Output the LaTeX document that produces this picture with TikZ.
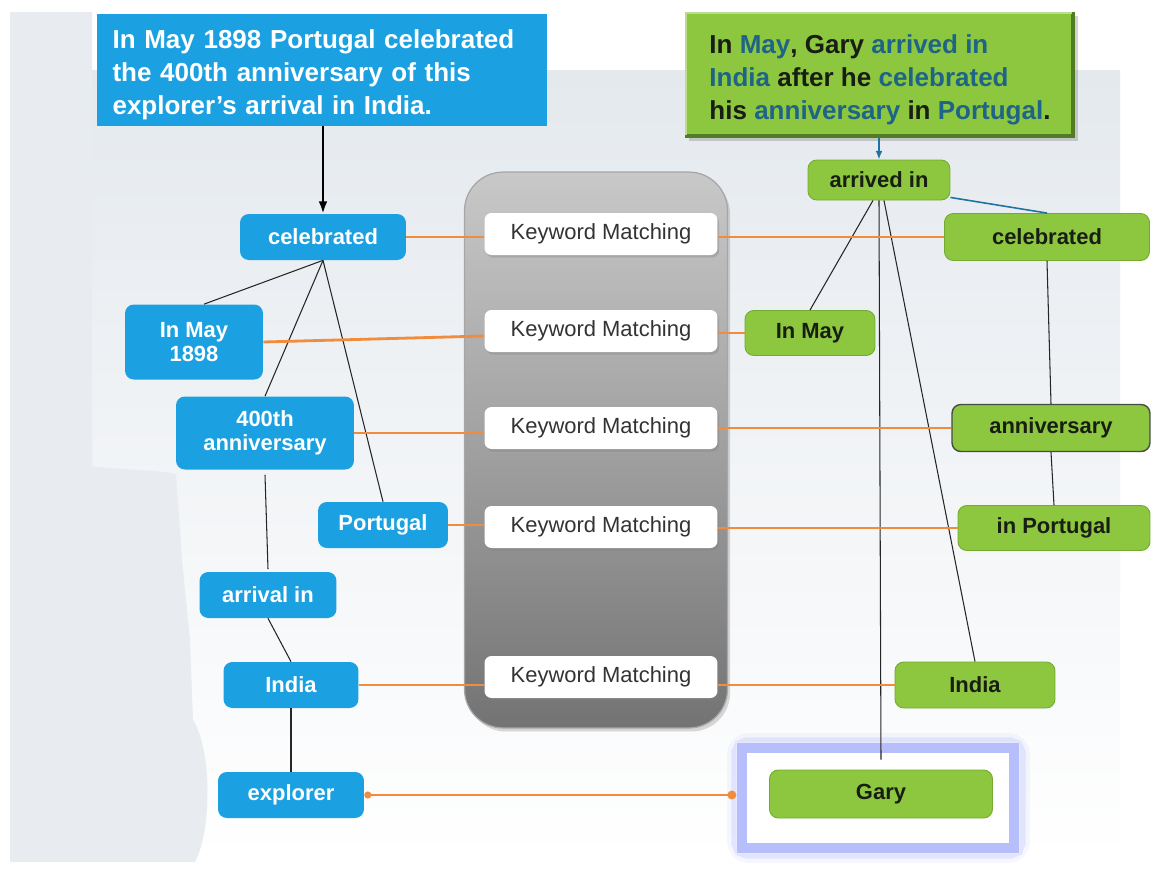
\documentclass[tikz,border=0pt]{standalone}
\usepackage{fontspec}
\setmainfont{Liberation Sans}
\usetikzlibrary{shadows,arrows.meta}

\definecolor{bgpale}{RGB}{232,236,240}
\definecolor{bgmain}{RGB}{228,233,238}
\definecolor{cyanbox}{RGB}{27,161,226}
\definecolor{leaf}{RGB}{141,198,63}
\definecolor{leafedge}{RGB}{104,158,40}
\definecolor{leafdark}{RGB}{80,125,35}
\definecolor{ink}{RGB}{25,30,20}
\definecolor{wordteal}{RGB}{30,100,135}
\definecolor{linkorange}{RGB}{240,140,60}
\definecolor{halocol}{RGB}{182,190,252}
\definecolor{panelhi}{RGB}{200,200,200}
\definecolor{panelmid}{RGB}{160,160,160}
\definecolor{panello}{RGB}{115,115,115}
\definecolor{arrowteal}{RGB}{30,115,160}

\newcommand{\labelfont}{\bfseries\fontsize{12.5}{13.8}\selectfont}

\begin{document}
\begin{tikzpicture}[x=0.02cm,y=-0.02cm,
  lbox/.style={fill=cyanbox, rounded corners=5pt, text=white, font=\labelfont,
    align=center, inner sep=0pt},
  gbox/.style={fill=leaf, draw=leafedge!70!leaf, line width=0.5pt, rounded corners=5pt,
    text=ink, font=\labelfont, align=center, inner sep=0pt},
  kmbox/.style={fill=white, rounded corners=4pt,
    drop shadow={opacity=0.35, shadow xshift=1pt, shadow yshift=-1.5pt},
    minimum width=4.66cm, minimum height=0.84cm, inner sep=0pt,
    font=\fontsize{12.5}{14}\selectfont, text=black!80},
  tie/.style={black!85, line width=0.6pt},
  link/.style={linkorange, line width=1.6pt},
  headline/.style={font=\bfseries\fontsize{14.8}{18.6}\selectfont, align=left}
]
\useasboundingbox (0,0) rectangle (1154,870);

% backdrop
\fill[white] (0,0) rectangle (1154,870);
\shade[top color=bgmain, bottom color=white] (85,70) rectangle (1120,860);
\fill[bgpale] (10,12) -- (92,12) -- (92,466)
  .. controls (120,470) and (160,470) .. (176,474) -- (182,560) -- (190,640) -- (193,720)
  .. controls (212,750) and (212,830) .. (195,862) -- (10,862) -- cycle;

% matching column
\node[draw=gray!70, line width=0.7pt, rounded corners=22pt,
  top color=panelhi, bottom color=panello, middle color=panelmid,
  drop shadow={opacity=0.3, shadow xshift=1.5pt, shadow yshift=-2pt},
  minimum width=5.26cm, minimum height=11.12cm] (panel) at (596,450) {};

\node[kmbox] (km1) at (601,234) {Keyword Matching};
\node[kmbox] (km2) at (601,331) {Keyword Matching};
\node[kmbox] (km3) at (601,428) {Keyword Matching};
\node[kmbox] (km4) at (601,527) {Keyword Matching};
\node[kmbox] (km5) at (601,677) {Keyword Matching};

% question sentence and its parse
\node[fill=cyanbox, text=white, headline, text width=8.38cm, inner xsep=0.32cm,
  minimum height=2.12cm] (qtext) at (322,70)
  {\rule{0pt}{16.3pt}In May 1898 Portugal celebrated\\the 400th anniversary of this\\explorer's arrival in India.};

\node[lbox, minimum width=3.32cm, minimum height=0.92cm] (lcel) at (323,237) {celebrated};
\node[lbox, minimum width=2.76cm, minimum height=1.5cm] (lmay) at (194,342) {In May\\1898};
\node[lbox, minimum width=3.56cm, minimum height=1.46cm] (lann) at (265,433) {400th\\anniversary};
\node[lbox, minimum width=2.6cm, minimum height=0.92cm] (lpor) at (383,525) {Portugal};
\node[lbox, minimum width=2.74cm, minimum height=0.92cm] (larr) at (268,595) {arrival in};
\node[lbox, minimum width=2.7cm, minimum height=0.92cm] (lind) at (291,685) {India};
\node[lbox, minimum width=2.92cm, minimum height=0.92cm] (lexp) at (291,795) {explorer};

% evidence sentence and its parse
\node[fill=leaf, draw=leafedge, line width=0.8pt, headline, text=ink,
  drop shadow={opacity=0.35, shadow xshift=2pt, shadow yshift=-2pt},
  inner xsep=0.2cm, minimum width=7.78cm, minimum height=2.5cm] (etext) at (880,75)
  {\rule{0pt}{16.3pt}In \textcolor{wordteal}{May}, Gary \textcolor{wordteal}{arrived in}\\
   \textcolor{wordteal}{India} after he \textcolor{wordteal}{celebrated}\\
   his \textcolor{wordteal}{anniversary} in \textcolor{wordteal}{Portugal}.};
\draw[leafdark, line width=2.2pt]
  ([xshift=-1.1pt]etext.north east) -- ([xshift=-1.1pt,yshift=1.1pt]etext.south east)
  -- ([yshift=1.1pt]etext.south west);
\draw[leaf!60!white, line width=1.2pt]
  ([xshift=0.6pt,yshift=2pt]etext.south west) -- ([xshift=0.6pt,yshift=-0.6pt]etext.north west)
  -- ([xshift=-2pt,yshift=-0.6pt]etext.north east);

\node[gbox, minimum width=2.84cm, minimum height=0.8cm] (rarr) at (879,180) {arrived in};
\node[gbox, minimum width=4.1cm, minimum height=0.94cm] (rcel) at (1047,237) {celebrated};
\node[gbox, minimum width=2.6cm, minimum height=0.9cm] (rmay) at (810,333) {In May};
\node[gbox, draw=ink!80, line width=0.8pt, minimum width=3.96cm, minimum height=0.94cm] (rann) at (1051,428) {anniversary};
\node[gbox, minimum width=3.84cm, minimum height=0.9cm] (rpor) at (1054,528) {in Portugal};
\node[gbox, minimum width=3.2cm, minimum height=0.92cm] (rind) at (975,685) {India};

% highlighted answer, with a soft glow round it
\draw[halocol, line width=17pt, opacity=0.12, rounded corners=4pt] (742,748) rectangle (1015,848);
\draw[halocol, line width=12pt, opacity=0.3, rounded corners=3pt] (742,748) rectangle (1015,848);
\node[draw=halocol, line width=6pt, fill=white,
  minimum width=5.46cm, minimum height=2.0cm] (halo) at (878,798) {};
\draw[halocol!35!white, line width=0.6pt] (halo.south west) rectangle (halo.north east);
\node[gbox, minimum width=4.46cm, minimum height=0.96cm] (rgary) at (881,794) {Gary};

% arrows from sentences to their roots
\draw[-{Latex[length=7pt,width=5pt]}, line width=1.3pt, black] (qtext.south -| lcel.north) -- (lcel.north);
\draw[-{Latex[length=5pt,width=4pt]}, line width=1pt, arrowteal] (etext.south -| rarr.north) -- (rarr.north);

% dependency edges, question side
\draw[tie] (lcel.south) -- ([xshift=0.2cm]lmay.north);
\draw[tie] (lcel.south) -- (lann.north);
\draw[tie] (lcel.south) -- (lpor.north);
\draw[tie] ([yshift=-0.1cm]lann.south) -- ([yshift=0.05cm]larr.north);
\draw[tie] (larr.south) -- (lind.north);
\draw[tie] (lind.south) -- (lexp.north);

% dependency edges, evidence side
\draw[tie] ([xshift=-0.12cm]rarr.south) -- (rmay.north);
\draw[tie] (rarr.south) -- ([yshift=0.2cm]rgary.north);
\draw[tie] ([xshift=0.1cm]rarr.south) -- (rind.north);
\draw[arrowteal, line width=0.9pt] ([yshift=0.06cm]rarr.south east) -- (rcel.north);
\draw[tie] (rcel.south) -- (rann.north);
\draw[tie] (rann.south) -- (rpor.north);

% keyword matches
\draw[link] (lcel.east) -- (lcel.east -| km1.west);
\draw[link] (rcel.west -| km1.east) -- (rcel.west);
\draw[link] (lmay.east) -- ([yshift=-0.1cm]km2.west);
\draw[link] (rmay.west -| km2.east) -- (rmay.west);
\draw[link] (lann.east) -- (lann.east -| km3.west);
\draw[link] (km3.east) -- (rann.west);
\draw[link] (lpor.east) -- (lpor.east -| km4.west);
\draw[link] (rpor.west -| km4.east) -- (rpor.west);
\draw[link] (lind.east) -- (lind.east -| km5.west);
\draw[link] (rind.west -| km5.east) -- (rind.west);
\draw[link, line width=1.3pt, {Circle[length=4pt]}-{Circle[length=5pt]}] (lexp.east) -- (lexp.east -| halo.west);
\end{tikzpicture}
\end{document}
